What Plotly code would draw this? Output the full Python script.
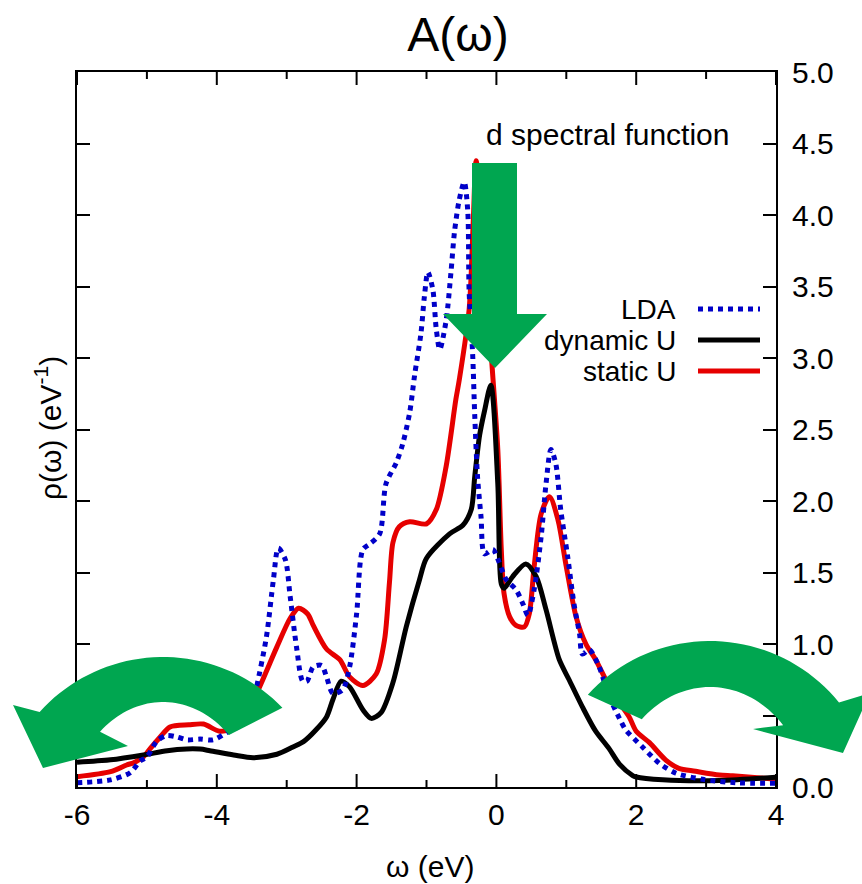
import math
import plotly.graph_objects as go

# ---------------- data ----------------
lda_x = [-6.0, -5.52, -5.24, -5.1, -5.0, -4.86, -4.72, -4.57, -4.43, -4.24, -4.05, -3.86, -3.62, -3.5,
         -3.43, -3.29, -3.19, -3.12, -3.02, -2.95, -2.86, -2.77, -2.71, -2.62, -2.5, -2.43, -2.34, -2.2,
         -2.1, -2.0, -1.91, -1.81, -1.67, -1.58, -1.43, -1.34, -1.24, -1.17, -1.08, -1.03, -0.98, -0.91,
         -0.86, -0.81, -0.72, -0.65, -0.6, -0.53, -0.46, -0.41, -0.39, -0.34, -0.31, -0.27, -0.22, -0.17,
         -0.05, 0.04, 0.14, 0.28, 0.38, 0.45, 0.54, 0.64, 0.71, 0.78, 0.85, 0.92, 1.02, 1.11, 1.19, 1.23,
         1.33, 1.47, 1.6, 1.76, 1.85, 2.09, 2.33, 2.57, 2.95, 3.42, 4.0]
lda_y = [0.03, 0.05, 0.10, 0.18, 0.21, 0.32, 0.36, 0.35, 0.33, 0.335, 0.33, 0.38, 0.445, 0.55,
         0.70, 1.05, 1.45, 1.67, 1.59, 1.33, 0.98, 0.74, 0.74, 0.84, 0.85, 0.77, 0.655, 0.68,
         0.84, 1.21, 1.66, 1.70, 1.77, 2.12, 2.27, 2.40, 2.62, 2.88, 3.17, 3.43, 3.60, 3.48,
         3.20, 3.06, 3.26, 3.60, 3.88, 4.11, 4.23, 4.03, 3.46, 3.03, 2.60, 2.17, 1.89, 1.63,
         1.66, 1.57, 1.45, 1.38, 1.28, 1.20, 1.38, 1.75, 2.12, 2.36, 2.26, 1.94, 1.61, 1.28, 1.07, 0.93,
         0.96, 0.84, 0.65, 0.48, 0.40, 0.28, 0.166, 0.096, 0.054, 0.03, 0.026]

static_x = [-6.0, -5.52, -5.29, -5.19, -5.05, -4.95, -4.81, -4.67, -4.4, -4.19, -3.96, -3.77, -3.6,
            -3.43, -3.14, -2.95, -2.83, -2.7, -2.62, -2.43, -2.24, -2.1, -1.91, -1.72, -1.6, -1.53,
            -1.48, -1.39, -1.24, -1.0, -0.86, -0.72, -0.58, -0.53, -0.39, -0.33, -0.29, -0.17, -0.06,
            0.02, 0.07, 0.11, 0.19, 0.28, 0.4, 0.47, 0.54, 0.64, 0.76, 0.88, 1.0, 1.14, 1.28, 1.42,
            1.66, 1.9, 2.0, 2.19, 2.42, 2.61, 2.85, 3.19, 3.38, 4.0]
static_y = [0.072, 0.107, 0.154, 0.17, 0.21, 0.27, 0.35, 0.42, 0.435, 0.44, 0.39, 0.41, 0.50,
            0.655, 0.98, 1.18, 1.25, 1.21, 1.13, 0.965, 0.89, 0.77, 0.71, 0.79, 1.03, 1.43,
            1.71, 1.82, 1.855, 1.84, 1.94, 2.24, 2.71, 2.85, 3.34, 3.97, 4.38, 3.70, 2.93,
            2.36, 1.66, 1.35, 1.19, 1.13, 1.12, 1.21, 1.54, 1.91, 2.03, 1.87, 1.54, 1.19, 1.0, 0.89,
            0.66, 0.49, 0.39, 0.31, 0.19, 0.13, 0.11, 0.084, 0.078, 0.055]

dyn_x = [-6.0, -5.52, -5.05, -4.71, -4.43, -4.24, -4.1, -3.76, -3.48, -3.14, -2.91, -2.76, -2.58,
         -2.43, -2.34, -2.22, -2.1, -1.91, -1.79, -1.65, -1.48, -1.29, -1.1, -1.0, -0.67, -0.48,
         -0.36, -0.31, -0.24, -0.17, -0.08, 0.02, 0.07, 0.11, 0.23, 0.42, 0.57, 0.71, 0.9, 1.04,
         1.23, 1.42, 1.61, 1.76, 1.95, 2.0, 2.38, 3.19, 4.0]
dyn_y = [0.173, 0.19, 0.224, 0.254, 0.266, 0.265, 0.254, 0.224, 0.205, 0.229, 0.28, 0.317, 0.40,
         0.49, 0.61, 0.74, 0.70, 0.54, 0.48, 0.52, 0.73, 1.12, 1.45, 1.60, 1.77, 1.83,
         1.94, 2.17, 2.46, 2.63, 2.81, 2.12, 1.42, 1.39, 1.47, 1.56, 1.47, 1.24, 0.89, 0.75,
         0.56, 0.39, 0.27, 0.16, 0.08, 0.07, 0.05, 0.045, 0.068]

legend_labels = ["LDA", "dynamic U", "static U"]
x_ticks = [-6, -4, -2, 0, 2, 4]
x_tick_text = ["-6", "-4", "-2", "0", "2", "4"]
x_minor_ticks = [-5, -3, -1, 1, 3]

assert len(lda_x) == len(lda_y)
assert len(static_x) == len(static_y)
assert len(dyn_x) == len(dyn_y)

# ---------------- layout geometry (pixels) ----------------
W, H = 862, 884
L, R, T, B = 77, 776, 72, 787
FONT = "Liberation Sans, Arial, sans-serif"
GREEN = "#00A650"
RED = "#E60000"
BLUE = "#0000C8"
SMOOTH = 0.8
MAJOR_LEN, MINOR_LEN = 13, 7


def px(x):
    return (x - L) / (R - L)


def py(y):
    return (B - y) / (B - T)


fig = go.Figure()
fig.add_trace(go.Scatter(x=static_x, y=static_y, mode="lines", name="static U",
                         line=dict(color=RED, width=5, shape="spline", smoothing=SMOOTH)))
fig.add_trace(go.Scatter(x=dyn_x, y=dyn_y, mode="lines", name="dynamic U",
                         line=dict(color="black", width=5, shape="spline", smoothing=SMOOTH)))
fig.add_trace(go.Scatter(x=lda_x, y=lda_y, mode="lines", name="LDA",
                         line=dict(color=BLUE, width=5, dash="5px,5px", shape="spline",
                                   smoothing=SMOOTH)))

shapes = []
annotations = []

# x tick marks (inside, bottom and top), placed on the x axis scale
for vals, ln in ((x_ticks, MAJOR_LEN), (x_minor_ticks, MINOR_LEN)):
    h = ln / (B - T)
    for v in vals:
        shapes.append(dict(type="line", xref="x", yref="paper", x0=v, x1=v, y0=0, y1=h,
                           line=dict(color="black", width=2), layer="above"))
        shapes.append(dict(type="line", xref="x", yref="paper", x0=v, x1=v, y0=1, y1=1 - h,
                           line=dict(color="black", width=2), layer="above"))

# custom legend: text on the left, line sample on the right (gnuplot style)
leg_y = [309, 340, 371]
leg_style = [dict(color=BLUE, width=5, dash="5px,5px"), dict(color="black", width=5),
             dict(color=RED, width=5)]
for lab, yy, st in zip(legend_labels, leg_y, leg_style):
    shapes.append(dict(type="line", xref="paper", yref="paper", x0=px(698), x1=px(760),
                       y0=py(yy), y1=py(yy), line=st, layer="above"))
    annotations.append(dict(text=lab, xref="paper", yref="paper", x=px(678), y=py(yy),
                            xanchor="right", yanchor="middle", showarrow=False,
                            font=dict(family=FONT, size=28, color="black")))


def poly_path(pts):
    s = "M %f,%f " % (px(pts[0][0]), py(pts[0][1]))
    for (a, b) in pts[1:]:
        s += "L %f,%f " % (px(a), py(b))
    return s + "Z"


def arc(cx, cy, a, b, t0, t1, n=40):
    out = []
    for i in range(n + 1):
        t = math.radians(t0 + (t1 - t0) * i / n)
        out.append((cx + a * math.cos(t), cy - b * math.sin(t)))
    return out


# down arrow
down = [(472, 163), (517, 163), (517, 314), (547, 314), (495, 368), (443, 314), (472, 314)]
shapes.append(dict(type="path", xref="paper", yref="paper", path=poly_path(down),
                   fillcolor=GREEN, line=dict(width=0), layer="above"))

# left curved arrow
left = arc(163, 823, 166, 166, 44, 138) + [(13, 705), (43, 768), (128, 746)] + \
    arc(163, 823, 96, 121, 131, 46.6)
shapes.append(dict(type="path", xref="paper", yref="paper", path=poly_path(left),
                   fillcolor=GREEN, line=dict(width=0), layer="above"))

# right curved arrow
right = arc(710, 807, 166, 166, 137.4, 39) + [(870, 693), (843, 753), (753, 729)] + \
    arc(710, 807, 100, 120, 43, 133)
shapes.append(dict(type="path", xref="paper", yref="paper", path=poly_path(right),
                   fillcolor=GREEN, line=dict(width=0), layer="above"))

annotations += [
    dict(text="d spectral function", xref="paper", yref="paper", x=px(607), y=py(135),
         xanchor="center", yanchor="middle", showarrow=False,
         font=dict(family=FONT, size=30, color="black")),
    dict(text="ρ(ω) (eV<sup>-1</sup>)", xref="paper", yref="paper", x=px(48), y=py(428),
         xanchor="center", yanchor="middle", textangle=-90, showarrow=False,
         font=dict(family=FONT, size=30, color="black")),
    dict(text="ω (eV)", xref="paper", yref="paper", x=px(430), y=py(866),
         xanchor="center", yanchor="middle", showarrow=False,
         font=dict(family=FONT, size=30, color="black")),
]

fig.update_layout(
    width=W, height=H,
    margin=dict(l=L, r=W - R, t=T, b=H - B, pad=0),
    paper_bgcolor="white", plot_bgcolor="white",
    showlegend=False,
    title=dict(text="A(ω)", x=458 / W, xanchor="center", xref="container",
               y=1 - 34 / H, yanchor="middle", yref="container",
               font=dict(family=FONT, size=48, color="black")),
    shapes=shapes,
    annotations=annotations,
    font=dict(family=FONT, color="black"),
    xaxis=dict(range=[-6, 4], tickmode="array", tickvals=x_ticks, ticktext=x_tick_text,
               showgrid=False, zeroline=False,
               showline=True, linecolor="black", linewidth=2, mirror=True,
               ticks="", tickfont=dict(family=FONT, size=30, color="black")),
    yaxis=dict(range=[0, 5], dtick=0.5, tick0=0, tickformat=".1f", side="right",
               showgrid=False, zeroline=False,
               showline=True, linecolor="black", linewidth=2, mirror="ticks",
               ticks="inside", ticklen=13, tickwidth=2, tickcolor="black",
               tickfont=dict(family=FONT, size=30, color="black"),
               ticklabelstandoff=8),
)

fig.write_html("out.html")
